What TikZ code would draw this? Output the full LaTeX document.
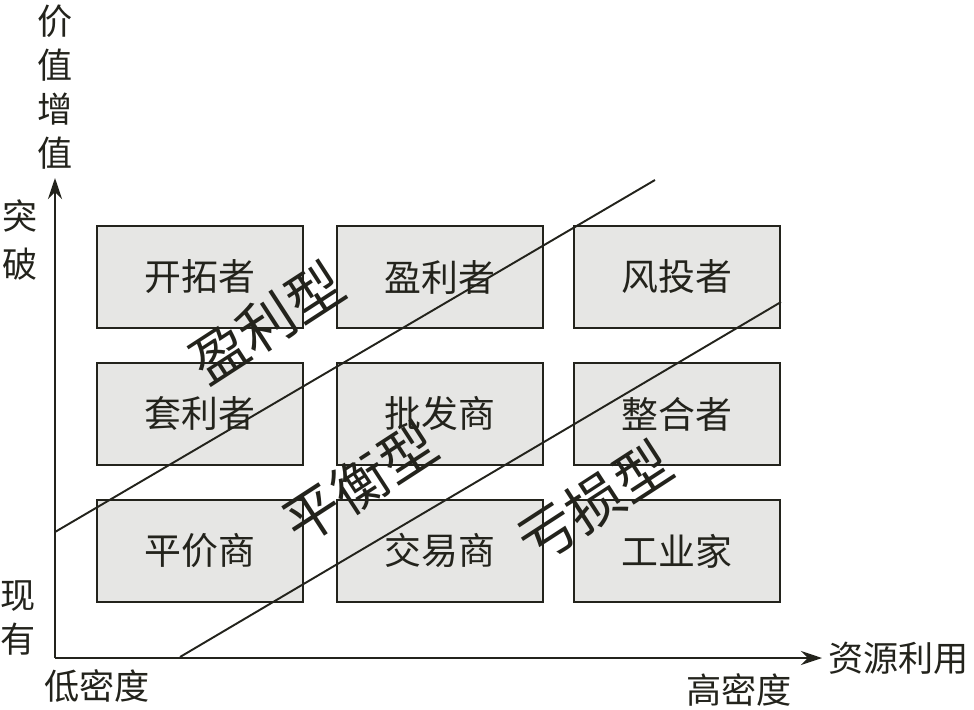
\documentclass[tikz,border=0pt]{standalone}
\usepackage{fontspec}
\newfontfamily\cjk{Noto Sans CJK SC}
\usetikzlibrary{arrows.meta,positioning}
\definecolor{boxgray}{RGB}{230,230,228}
\definecolor{ink}{RGB}{35,35,28}

\begin{document}
\begin{tikzpicture}[x=0.02cm, y=-0.02cm,
    >={Stealth[length=12pt,width=8pt]}, font=\cjk, node distance=6.5mm and 6.3mm,
    cell/.style={draw=ink, line width=1.4pt, fill=boxgray, minimum width=41.2mm,
                 minimum height=20.4mm, font=\cjk\fontsize{21}{24}\selectfont, text=ink},
    axlab/.style={font=\cjk\fontsize{20}{25}\selectfont, text=ink, align=center, inner sep=0pt},
    zone/.style={font=\cjk\fontsize{32}{36}\selectfont, text=ink, rotate=33, inner sep=0pt},
    rule/.style={line width=1.1pt, draw=ink},
  ]
  \useasboundingbox (0,0) rectangle (974,710);

  % the nine roles
  \node[cell] (kaituo) at (200,277) {开拓者};
  \node[cell, right=of kaituo] (yingli) {盈利者};
  \node[cell, right=5.7mm of yingli] (fengtou) {风投者};
  \node[cell, below=of kaituo] (taoli) {套利者};
  \node[cell, right=of taoli] (pifa) {批发商};
  \node[cell, right=5.7mm of pifa] (zhenghe) {整合者};
  \node[cell, below=of taoli] (pingjia) {平价商};
  \node[cell, right=of pingjia] (jiaoyi) {交易商};
  \node[cell, right=5.7mm of jiaoyi] (gongye) {工业家};

  % axes
  \coordinate (O) at (55,658);
  \coordinate (ytip) at (55,178);
  \coordinate (xtip) at (822,658);
  \draw[rule, line width=1.3pt, ->] (O) -- (ytip);
  \draw[rule, line width=1.3pt, ->] (O) -- (xtip);

  \node[axlab] (valup) at (55,87) {价\\值\\增\\值};
  \node[axlab, font=\cjk\fontsize{20}{27}\selectfont] (breakthru) at (20,240) {突\\破};
  \node[axlab] (existing) at (18,618) {现\\有};
  \node[axlab] (lowdens) at (97,686) {低密度};
  \node[axlab] (highdens) at (739,690) {高密度};
  \node[axlab, right=1.2mm of xtip] (resuse) {资源利用};

  % zone borders
  \coordinate (upA) at (55,532);
  \coordinate (upB) at (655,180);
  \coordinate (loA) at (180,657);
  \coordinate (loB) at (781,302);
  \draw[rule] (upA) -- (upB);
  \draw[rule] (loA) -- (loB);

  \node[zone] (profit) at (267,323) {盈利型};
  \node[zone] (balance) at (360,483) {平衡型};
  \node[zone] (loss) at (595,502) {亏损型};
\end{tikzpicture}
\end{document}
